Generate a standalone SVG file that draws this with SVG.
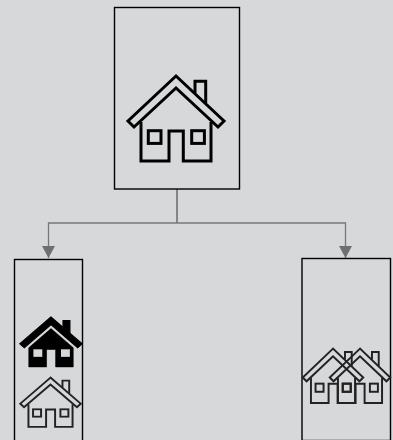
<svg xmlns="http://www.w3.org/2000/svg" width="393" height="440" viewBox="0 0 393 440">
<style>
.box{fill:none;stroke:#000;stroke-width:1.4}
.conn{fill:none;stroke:#777;stroke-width:1.3}
.stem{fill:none;stroke:#777;stroke-width:1.7}
.h{fill:none;stroke:#000;stroke-width:3;stroke-linejoin:miter;stroke-miterlimit:3}
.k{stroke:#222;stroke-width:3.1}
</style>
<defs>
<marker id="arrow" markerUnits="userSpaceOnUse" markerWidth="14" markerHeight="14" refX="12" refY="6.500" orient="auto"><path d="M0 0L12 6.500L0 13Z" fill="#6f6f6f"/></marker>
<g id="house">
<path d="M0 1L-48 46L-42 52L0 13L42 52L48 46Z"/>
<path d="M19 18V6.300H29.700V28"/>
<path d="M-35 47V86H-7V56H7.300V86H35V47"/>
<rect x="-27.700" y="55.700" width="12.700" height="12.700"/>
<rect x="15.700" y="55.700" width="12.700" height="12.700"/>
</g>
</defs>
<rect width="393" height="440" fill="#d7d8da"/>
<g id="connectors">
<path class="stem" d="M177 189V223"/>
<path class="conn" d="M177 223H48.500V258" marker-end="url(#arrow)"/>
<path class="conn" d="M177 223H345.500V258" marker-end="url(#arrow)"/>
</g>
<g id="node-top">
<rect class="box" x="114.500" y="7.500" width="125" height="181.500"/>
<use href="#house" class="h" transform="translate(176 75)"/>
</g>
<g id="node-left">
<rect class="box" x="14.500" y="259.500" width="68" height="182"/>
<g transform="translate(51 317) scale(.635 .58)" fill="#000">
<path d="M0 0L-49 46L-42 53L0 13L42 53L49 46Z" stroke="#000" stroke-width="2"/>
<path d="M19 18V6.300H29.700V30Z" stroke="#000" stroke-width="2"/>
<path d="M-35 53L0 20L35 53V86H7.300V56H-7V86H-35Z" stroke="#000" stroke-width="1"/>
<rect x="-27.700" y="55.700" width="14" height="13" fill="#d7d8da"/>
<rect x="15.700" y="55.700" width="14" height="13" fill="#d7d8da"/>
</g>
<use href="#house" class="h k" transform="translate(50.500 377) scale(.63 .58)"/>
</g>
<g id="node-right">
<rect class="box" x="302" y="258.500" width="88.500" height="182"/>
<use href="#house" class="h k" transform="translate(333 348) scale(.63 .64)"/>
<use href="#house" class="h k" transform="translate(360 348) scale(.63 .64)"/>
</g>
</svg>
